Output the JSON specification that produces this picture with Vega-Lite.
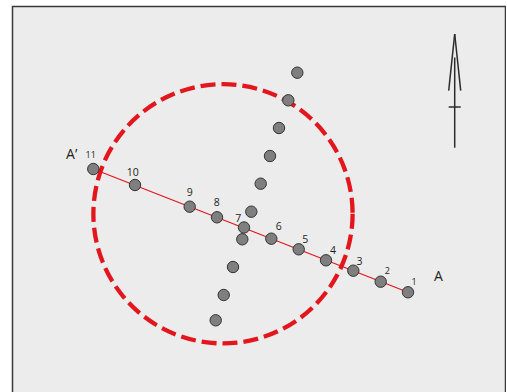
{
  "$schema": "https://vega.github.io/schema/vega-lite/v6.json",
  "width": 493,
  "height": 400,
  "autosize": {"type": "none"},
  "padding": {"left": 12.5, "top": 6.5, "right": 0, "bottom": 0},
  "background": "#ffffff",
  "config": {
    "view": {"stroke": "#3a3a3a", "strokeWidth": 1.5, "fill": "#ececec"},
    "text": {"font": "Open Sans", "color": "#231f20"}
  },
  "datasets": {
    "section": [
      {"label": "1", "x": 408, "y": 292.3, "lx": 414, "ly": 282.3},
      {"label": "2", "x": 380.7, "y": 281.7, "lx": 387.3, "ly": 271},
      {"label": "3", "x": 353.3, "y": 270.7, "lx": 359.5, "ly": 261.7},
      {"label": "4", "x": 326, "y": 260.3, "lx": 333, "ly": 251.3},
      {"label": "5", "x": 298.7, "y": 249.3, "lx": 305.3, "ly": 240},
      {"label": "6", "x": 271.3, "y": 238.7, "lx": 278.7, "ly": 226.7},
      {"label": "7", "x": 244, "y": 227.5, "lx": 238.3, "ly": 219.3},
      {"label": "8", "x": 217, "y": 217.3, "lx": 216.7, "ly": 202.7},
      {"label": "9", "x": 189.7, "y": 206.7, "lx": 189.7, "ly": 193.3},
      {"label": "10", "x": 135, "y": 185, "lx": 132.7, "ly": 172.7},
      {"label": "11", "x": 93.3, "y": 169, "lx": 90.7, "ly": 155.3}
    ],
    "diagonal": [
      {"x": 297.3, "y": 72.7},
      {"x": 288.3, "y": 100.3},
      {"x": 279, "y": 128},
      {"x": 270, "y": 156},
      {"x": 260.7, "y": 183.7},
      {"x": 251.3, "y": 211.7},
      {"x": 242.3, "y": 239.3},
      {"x": 233, "y": 267},
      {"x": 223.7, "y": 295},
      {"x": 215.7, "y": 320.3}
    ],
    "ends": [
      {"label": "A", "lx": 438.3, "ly": 277.3},
      {"label": "A’", "lx": 71.7, "ly": 154.5}
    ],
    "profile": [
      {"x": 93.3, "y": 169, "x2": 408, "y2": 292.3}
    ],
    "ring": [
      {"x": 223, "y": 213.8}
    ],
    "north": [
      {"x": 454.7, "y": 57.5, "x2": 454.7, "y2": 147.7},
      {"x": 454.7, "y": 34, "x2": 448.7, "y2": 90.7},
      {"x": 454.7, "y": 34, "x2": 460.7, "y2": 90.7},
      {"x": 448.7, "y": 107, "x2": 460.7, "y2": 107}
    ]
  },
  "layer": [
    {
      "data": {"name": "ring"},
      "mark": {"type": "point", "shape": "circle", "filled": false, "stroke": "#e2161c", "strokeWidth": 4.3, "strokeDash": [15, 6], "opacity": 1},
      "encoding": {
        "x": {"field": "x", "type": "quantitative", "scale": {"domain": [12.5, 505.5], "nice": false, "zero": false}, "axis": null},
        "y": {"field": "y", "type": "quantitative", "scale": {"domain": [6.5, 406.5], "reverse": true, "nice": false, "zero": false}, "axis": null},
        "size": {"value": 67200}
      }
    },
    {
      "data": {"name": "profile"},
      "mark": {"type": "rule", "color": "#e2161c", "strokeWidth": 1.2},
      "encoding": {
        "x": {"field": "x", "type": "quantitative"},
        "y": {"field": "y", "type": "quantitative"},
        "x2": {"field": "x2"},
        "y2": {"field": "y2"}
      }
    },
    {
      "data": {"name": "diagonal"},
      "mark": {"type": "point", "shape": "circle", "filled": true, "fill": "#7f7f7f", "stroke": "#333333", "strokeWidth": 1, "opacity": 1},
      "encoding": {
        "x": {"field": "x", "type": "quantitative"},
        "y": {"field": "y", "type": "quantitative"},
        "size": {"value": 130}
      }
    },
    {
      "data": {"name": "section"},
      "mark": {"type": "point", "shape": "circle", "filled": true, "fill": "#7f7f7f", "stroke": "#333333", "strokeWidth": 1, "opacity": 1},
      "encoding": {
        "x": {"field": "x", "type": "quantitative"},
        "y": {"field": "y", "type": "quantitative"},
        "size": {"value": 130}
      }
    },
    {
      "data": {"name": "section"},
      "transform": [{"filter": "datum.label != '1' && datum.label != '2' && datum.label != '11'"}],
      "mark": {"type": "text", "fontSize": 10.5, "align": "center", "baseline": "middle", "color": "#231f20", "fill": "#231f20"},
      "encoding": {
        "x": {"field": "lx", "type": "quantitative"},
        "y": {"field": "ly", "type": "quantitative"},
        "text": {"field": "label"}
      }
    },
    {
      "data": {"name": "section"},
      "transform": [{"filter": "datum.label == '1' || datum.label == '2' || datum.label == '11'"}],
      "mark": {"type": "text", "fontSize": 9, "align": "center", "baseline": "middle", "color": "#231f20", "fill": "#231f20"},
      "encoding": {
        "x": {"field": "lx", "type": "quantitative"},
        "y": {"field": "ly", "type": "quantitative"},
        "text": {"field": "label"}
      }
    },
    {
      "data": {"name": "ends"},
      "mark": {"type": "text", "fontSize": 14, "align": "center", "baseline": "middle", "color": "#231f20", "fill": "#231f20"},
      "encoding": {
        "x": {"field": "lx", "type": "quantitative"},
        "y": {"field": "ly", "type": "quantitative"},
        "text": {"field": "label"}
      }
    },
    {
      "data": {"name": "north"},
      "mark": {"type": "rule", "color": "#2b2b2b", "strokeWidth": 1.5},
      "encoding": {
        "x": {"field": "x", "type": "quantitative"},
        "y": {"field": "y", "type": "quantitative"},
        "x2": {"field": "x2"},
        "y2": {"field": "y2"}
      }
    }
  ]
}
